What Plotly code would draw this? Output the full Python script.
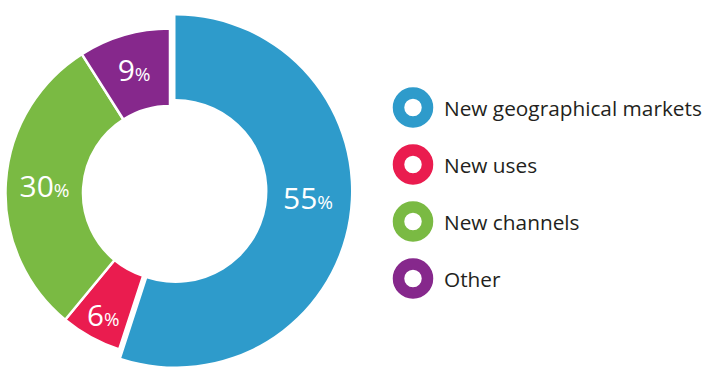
import plotly.graph_objects as go

# Share of growth by source
labels = ["New geographical markets", "New uses", "New channels", "Other"]
values = [55, 6, 30, 9]
colors = ["#2e9bcb", "#ea1c4f", "#7aba43", "#86288c"]

W, H = 703, 373
CLEAR = "rgba(0,0,0,0)"
FONT = "Open Sans"
PCT_SPAN = "<span style='font-size:19px'>%</span>"
PCT = "%{value}" + PCT_SPAN


def dom(cx, cy, r):
    """Pixel circle -> paper domain."""
    return dict(x=[(cx - r) / W, (cx + r) / W],
                y=[1 - (cy + r) / H, 1 - (cy - r) / H])


lead = 0  # the largest slice is drawn on its own, larger ring

fig = go.Figure()

# Larger ring carrying only the leading slice
fig.add_trace(go.Pie(
    labels=labels, values=values, sort=False, direction="clockwise",
    rotation=0, hole=0.524, domain=dom(175.5, 191, 175.5),
    marker=dict(colors=[c if i == lead else CLEAR for i, c in enumerate(colors)],
                line=dict(width=0)),
    textinfo="none",
    showlegend=False, hoverinfo="label+percent",
))

# Main ring with the remaining slices
fig.add_trace(go.Pie(
    labels=labels, values=values, sort=False, direction="clockwise",
    rotation=0, hole=0.529, domain=dom(170, 193, 164.5),
    marker=dict(colors=[CLEAR if i == lead else c for i, c in enumerate(colors)],
                line=dict(color=[CLEAR if i == lead else "white" for i in range(len(values))],
                          width=2.5)),
    texttemplate=["" if i == lead else PCT for i in range(len(values))],
    textposition="inside", insidetextorientation="horizontal",
    textfont=dict(family=FONT, size=30, color="white"),
    showlegend=False, hoverinfo="label+percent",
))

# Label of the leading slice, placed in the wide part of its band
fig.add_annotation(x=308 / W, y=1 - 197 / H, xref="paper", yref="paper",
                   text=f"{values[lead]}{PCT_SPAN}", showarrow=False,
                   xanchor="center", yanchor="middle",
                   font=dict(family=FONT, size=30, color="white"))

# Ring-shaped legend keys
rows = list(range(len(labels)))
fig.add_trace(go.Scatter(
    x=[413] * len(labels), y=rows, mode="markers",
    marker=dict(symbol="circle-open", size=29, color=colors,
                line=dict(width=11.5)),
    showlegend=False, hoverinfo="skip",
))
for i, lab in enumerate(labels):
    fig.add_annotation(x=442, y=i, text=lab, showarrow=False,
                       xanchor="left", yanchor="middle", xref="x", yref="y",
                       font=dict(family=FONT, size=20.8, color="#231f20"))

row0, step = 107.5, 57
fig.update_layout(
    width=W, height=H, margin=dict(l=0, r=0, t=0, b=0),
    paper_bgcolor="white", plot_bgcolor="rgba(0,0,0,0)",
    xaxis=dict(range=[0, W], visible=False, fixedrange=True),
    yaxis=dict(range=[(H - row0) / step, -row0 / step], visible=False,
               fixedrange=True),
)

fig.write_html("out.html")
